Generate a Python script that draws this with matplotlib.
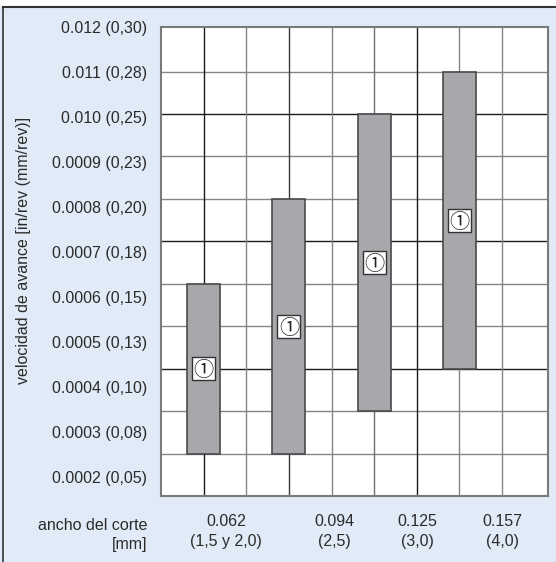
import matplotlib
matplotlib.use("Agg")
import matplotlib.pyplot as plt
from matplotlib.patches import Rectangle
from matplotlib.lines import Line2D
from matplotlib.transforms import offset_copy

# ---- data ----
feed_in = ["0.012", "0.011", "0.010", "0.0009", "0.0008", "0.0007",
           "0.0006", "0.0005", "0.0004", "0.0003", "0.0002"]
feed_mm = ["0,30", "0,28", "0,25", "0,23", "0,20", "0,18",
           "0,15", "0,13", "0,10", "0,08", "0,05"]
feed_mm_values = [0.30, 0.28, 0.25, 0.23, 0.20, 0.18, 0.15, 0.13, 0.10, 0.08, 0.05]
cut_width_in = ["0.062", "0.094", "0.125", "0.157"]
cut_width_mm = ["1,5 y 2,0", "2,5", "3,0", "4,0"]
range_low_mm = [0.05, 0.05, 0.08, 0.10]
range_high_mm = [0.15, 0.20, 0.25, 0.28]
range_note = ["\u2460", "\u2460", "\u2460", "\u2460"]

# ---- layout ----
W, H = 556, 562
fig = plt.figure(figsize=(W / 100, H / 100), dpi=100)
bg = "#e0ebf7"
fig.patch.set_facecolor(bg)
txt = "#2b2b2b"
font, fs = "Liberation Sans", 11.5

fig.add_artist(Rectangle((0, 1 - 7 / H), 1, 7 / H, transform=fig.transFigure,
                         facecolor="white", edgecolor="none", zorder=0))
fig.add_artist(Line2D([3 / W, 1], [1 - 7 / H, 1 - 7 / H], transform=fig.transFigure,
                      color="#333333", lw=1.5))
fig.add_artist(Line2D([3 / W, 3 / W], [0, 1 - 7 / H], transform=fig.transFigure,
                      color="#333333", lw=1.2))

L, R, T, B = 161, 548, 27, 496
ax = fig.add_axes([L / W, (H - B) / H, (R - L) / W, (B - T) / H])
ax.set_facecolor("white")
cell = (B - T) / 11.0
xmax = (R - L) / cell
ax.set_xlim(0, xmax)
ax.set_ylim(0, 11)

n_levels = len(feed_mm_values)

def level_pos(v):
    return n_levels - feed_mm_values.index(v)

# grid lines
for k in range(1, 11):
    c = "#1a1a1a" if k % 3 == 0 else "#858585"
    ax.axhline(k, color=c, lw=1.0, zorder=1)
vcols = {1: "#1a1a1a", 2: "#858585", 3: "#3a3a3a", 4: "#858585",
         5: "#707070", 6: "#1a1a1a", 7: "#858585", 8: "#858585"}
for k in range(1, 9):
    ax.axvline(k, color=vcols[k], lw=1.0, zorder=1)

for s in ax.spines.values():
    s.set_color("#7a7a7a")
    s.set_linewidth(1.5)

# bars
bar_x = [1 + 2 * i for i in range(len(cut_width_in))]
lows = [level_pos(v) for v in range_low_mm]
highs = [level_pos(v) for v in range_high_mm]
ax.bar(bar_x, [h - l for h, l in zip(highs, lows)], bottom=lows, width=33 / cell,
       color="#a7a8ab", edgecolor="#4a4a4a", linewidth=1.2, zorder=2)

box = 23 / cell
note_fs = 14.5
note_tr = offset_copy(ax.transData, fig=fig, x=0, y=-0.38 * note_fs * 100 / 72,
                      units="dots")
for x, l, h, note in zip(bar_x, lows, highs, range_note):
    m = (l + h) / 2
    ax.add_patch(Rectangle((x - box / 2, m - box / 2), box, box, facecolor="white",
                           edgecolor="#333333", lw=1.0, zorder=3))
    ax.text(x, m, note, ha="center", va="baseline", fontsize=note_fs,
            family=["Noto Sans CJK JP", "DejaVu Sans"], color="#222222", zorder=4,
            transform=note_tr)

# y ticks
ypos = [11.05 - 1.06 * i for i in range(len(feed_in))]
ax.set_yticks(ypos)
ax.set_yticklabels([f"{a} ({b})" for a, b in zip(feed_in, feed_mm)],
                   fontsize=fs, family=font, color=txt)

# x ticks
xlab_pos = [1.53, 4.07, 6.02, 8.0]
ax.set_xticks(xlab_pos)
ax.set_xticklabels([f"{a}\n({b})" for a, b in zip(cut_width_in, cut_width_mm)],
                   fontsize=fs, family=font, color=txt, linespacing=1.45)
ax.tick_params(axis="y", length=0, pad=10)
ax.tick_params(axis="x", length=0, pad=13)

fig.text(147 / W, 1 - 535 / H, "ancho del corte\n[mm]", ha="right", va="center",
         multialignment="right", fontsize=fs, family=font, color=txt, linespacing=1.35)
fig.text(24 / W, 1 - 250 / H, "velocidad de avance [in/rev (mm/rev)]", rotation=90,
         ha="center", va="center", fontsize=fs, family=font, color=txt)

fig.savefig("out.png", dpi=100, facecolor=fig.get_facecolor())
